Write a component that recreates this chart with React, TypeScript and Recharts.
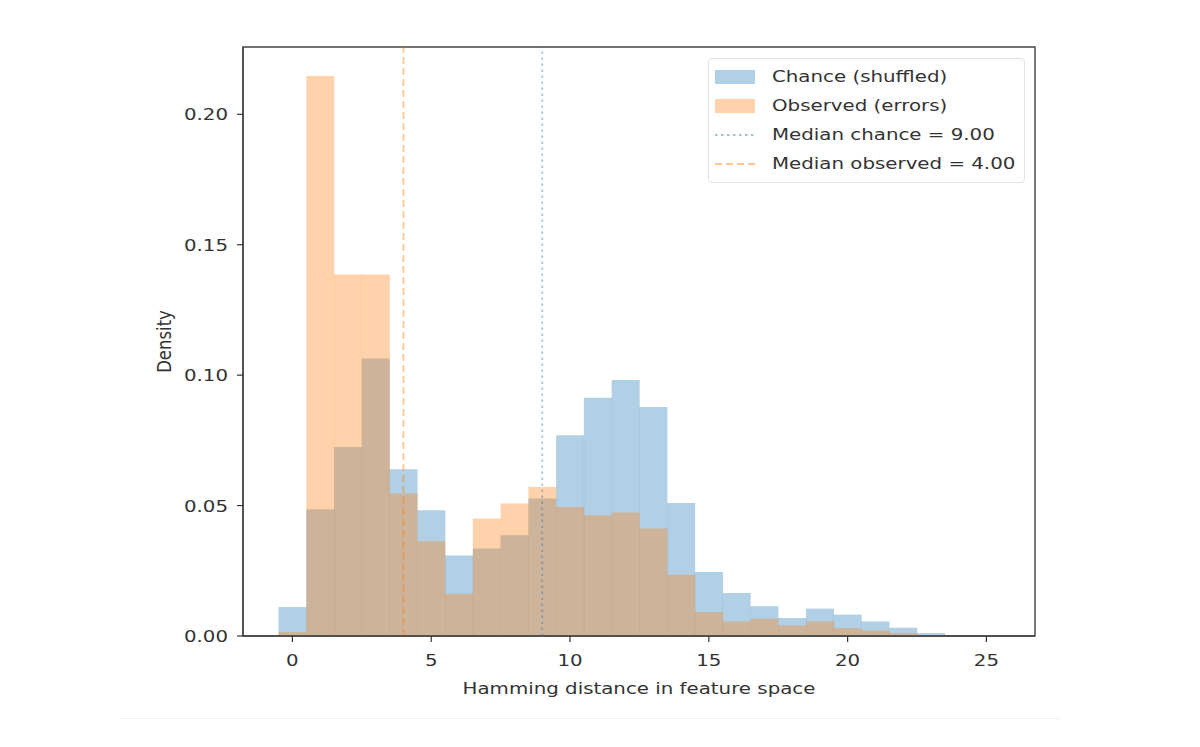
import React from 'react';
import { ComposedChart, Bar, XAxis, YAxis, ReferenceLine, ReferenceArea } from 'recharts';

// histogram bins (integer Hamming distances), density per bin
const bins = [0, 1, 2, 3, 4, 5, 6, 7, 8, 9, 10, 11, 12, 13, 14, 15, 16, 17, 18, 19, 20, 21, 22, 23, 24, 25];
const chanceDensity = [
  0.0111, 0.0486, 0.0725, 0.1064, 0.0639, 0.0482, 0.0309, 0.0335, 0.0386, 0.0527, 0.077, 0.0913, 0.0981,
  0.0878, 0.051, 0.0245, 0.0165, 0.0114, 0.0069, 0.0105, 0.0082, 0.0056, 0.0032, 0.0011, 0.0002, 0,
];
const observedDensity = [
  0.0015, 0.2147, 0.1386, 0.1386, 0.0546, 0.0363, 0.0162, 0.045, 0.0508, 0.0571, 0.0495, 0.0463, 0.0473,
  0.0412, 0.0235, 0.0092, 0.0056, 0.0066, 0.0041, 0.0056, 0.003, 0.0021, 0.0011, 0.0003, 0, 0,
];
const medianChance = 9;
const medianObserved = 4;

const xTicks = [0, 5, 10, 15, 20, 25];
const yTicks = [0, 0.05, 0.1, 0.15, 0.2];
const xDomain = [-1.78, 26.75];
const yDomain = [0, 0.2258];

const CHANCE = '#1f77b4';
const OBSERVED = '#ff7f0e';
const ALPHA = 0.35;
const FONT = '"DejaVu Sans", sans-serif';
const FS = 16.5;
const SX = 1.2; // the source image is stretched horizontally

const data = bins.map((b, i) => ({ bin: b, chance: chanceDensity[i], observed: observedDensity[i] }));

const XTick = (props: any) => {
  const { x, y, payload } = props;
  return (
    <g transform={`translate(${x},${y + 22}) scale(${SX},1)`}>
      <text x={0} y={0} textAnchor="middle" fontFamily={FONT} fontSize={FS} fill="#333">
        {payload.value}
      </text>
    </g>
  );
};

const YTick = (props: any) => {
  const { x, y, payload } = props;
  return (
    <g transform={`translate(${x - 7},${y}) scale(${SX},1)`}>
      <text x={0} y={0} dy="0.36em" textAnchor="end" fontFamily={FONT} fontSize={FS} fill="#333">
        {Number(payload.value).toFixed(2)}
      </text>
    </g>
  );
};

const XLabel = (props: any) => {
  const vb = props.viewBox || {};
  return (
    <g transform={`translate(${vb.x + vb.width / 2},${vb.y + 58}) scale(${SX},1)`}>
      <text x={0} y={0} textAnchor="middle" fontFamily={FONT} fontSize={FS} fill="#333">
        Hamming distance in feature space
      </text>
    </g>
  );
};

const YLabel = (props: any) => {
  const vb = props.viewBox || {};
  return (
    <g transform={`translate(${vb.x + 28},${vb.y + vb.height / 2}) scale(${SX},1) rotate(-90)`}>
      <text x={0} y={0} textAnchor="middle" fontFamily={FONT} fontSize={FS} fill="#333">
        Density
      </text>
    </g>
  );
};

const legendItems = [
  { label: 'Chance (shuffled)', color: CHANCE, kind: 'patch', dash: '' },
  { label: 'Observed (errors)', color: OBSERVED, kind: 'patch', dash: '' },
  { label: `Median chance = ${medianChance.toFixed(2)}`, color: CHANCE, kind: 'line', dash: '2.5 3.5' },
  { label: `Median observed = ${medianObserved.toFixed(2)}`, color: OBSERVED, kind: 'line', dash: '7 4' },
];

const LegendBox = () => (
  <div
    style={{
      position: 'absolute',
      left: 708,
      top: 58,
      width: 317,
      height: 125,
      boxSizing: 'border-box',
      border: '1px solid #e2e2e2',
      borderRadius: 4,
      background: 'rgba(255,255,255,0.8)',
      paddingTop: 3,
    }}
  >
    {legendItems.map((it) => (
      <div key={it.label} style={{ height: 29, display: 'flex', alignItems: 'center' }}>
        <svg width={48} height={16} style={{ marginLeft: 6, flex: 'none' }}>
          {it.kind === 'patch' ? (
            <rect x={0} y={1} width={40} height={14} fill={it.color} fillOpacity={ALPHA} />
          ) : (
            <line x1={0} y1={8} x2={40} y2={8} stroke={it.color} strokeOpacity={0.45} strokeWidth={1.8} strokeDasharray={it.dash} />
          )}
        </svg>
        <span
          style={{
            display: 'inline-block',
            marginLeft: 9,
            fontFamily: FONT,
            fontSize: FS,
            color: '#333',
            whiteSpace: 'nowrap',
            transform: `scaleX(${SX})`,
            transformOrigin: 'left center',
          }}
        >
          {it.label}
        </span>
      </div>
    ))}
  </div>
);

export default function App() {
  return (
    <div style={{ position: 'absolute', left: 0, top: 0, width: 1200, height: 747, background: '#fff' }}>
      <ComposedChart
        width={1200}
        height={747}
        data={data}
        margin={{ top: 47, right: 165, bottom: 51, left: 143 }}
        barCategoryGap={0}
        barGap={0}
      >
        <XAxis
          xAxisId="x"
          dataKey="bin"
          type="number"
          domain={xDomain}
          ticks={xTicks}
          height={60}
          tickSize={6}
          tickLine={{ stroke: '#333', strokeWidth: 1.2 }}
          axisLine={{ stroke: '#444', strokeWidth: 1.4 }}
          tick={<XTick />}
          allowDataOverflow
          label={<XLabel />}
        />
        <XAxis xAxisId="x2" dataKey="bin" type="number" domain={xDomain} hide allowDataOverflow />
        <YAxis
          yAxisId="y"
          type="number"
          domain={yDomain}
          ticks={yTicks}
          width={100}
          tickSize={6}
          tickLine={{ stroke: '#333', strokeWidth: 1.2 }}
          axisLine={{ stroke: '#444', strokeWidth: 1.4 }}
          tick={<YTick />}
          allowDataOverflow
          label={<YLabel />}
        />
        <Bar xAxisId="x" yAxisId="y" dataKey="chance" fill={CHANCE} fillOpacity={ALPHA} isAnimationActive={false} />
        <Bar xAxisId="x2" yAxisId="y" dataKey="observed" fill={OBSERVED} fillOpacity={ALPHA} isAnimationActive={false} />
        <ReferenceLine
          xAxisId="x"
          yAxisId="y"
          x={medianChance}
          stroke={CHANCE}
          strokeOpacity={0.4}
          strokeWidth={1.8}
          strokeDasharray="2.5 3.5"
        />
        <ReferenceLine
          xAxisId="x"
          yAxisId="y"
          x={medianObserved}
          stroke={OBSERVED}
          strokeOpacity={0.45}
          strokeWidth={1.8}
          strokeDasharray="7 4"
        />
        {/* axes frame (top and right spines) */}
        <ReferenceArea
          xAxisId="x"
          yAxisId="y"
          x1={xDomain[0]}
          x2={xDomain[1]}
          y1={yDomain[0]}
          y2={yDomain[1]}
          fill="none"
          stroke="#444"
          strokeWidth={1.4}
        />
      </ComposedChart>
      <LegendBox />
      <div style={{ position: 'absolute', left: 120, top: 718, width: 940, borderTop: '1px solid #f4f4f4' }} />
    </div>
  );
}
